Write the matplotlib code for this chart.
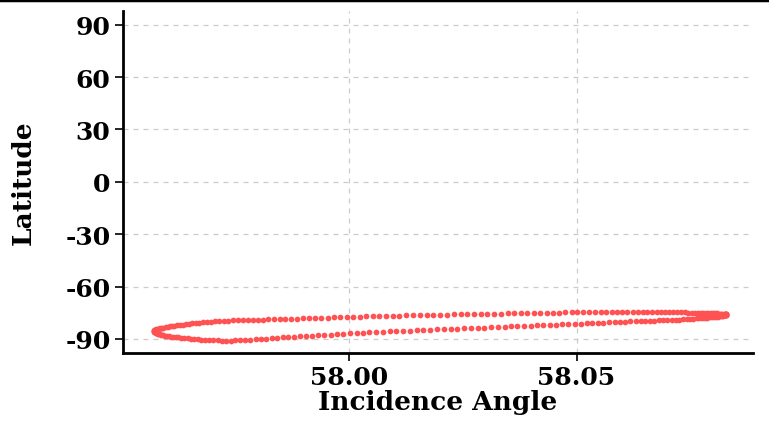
import matplotlib
matplotlib.use("Agg")
import matplotlib.pyplot as plt
from matplotlib.lines import Line2D

# Upper branch of the loop (left tip -> right tip)
upper_x = [57.9570, 57.9570, 57.9571, 57.9572, 57.9573, 57.9574, 57.9576, 57.9579, 57.9581, 57.9584,
           57.9588, 57.9591, 57.9596, 57.9600, 57.9605, 57.9610, 57.9615, 57.9621, 57.9627, 57.9633,
           57.9640, 57.9647, 57.9654, 57.9662, 57.9670, 57.9678, 57.9687, 57.9696, 57.9705, 57.9714,
           57.9724, 57.9734, 57.9744, 57.9754, 57.9765, 57.9776, 57.9788, 57.9799, 57.9811, 57.9822,
           57.9835, 57.9847, 57.9859, 57.9872, 57.9885, 57.9898, 57.9911, 57.9925, 57.9938, 57.9952,
           57.9966, 57.9980, 57.9994, 58.0008, 58.0023, 58.0037, 58.0051, 58.0066, 58.0081, 58.0096,
           58.0110, 58.0125, 58.0140, 58.0155, 58.0170, 58.0185, 58.0200, 58.0215, 58.0230, 58.0245,
           58.0260, 58.0275, 58.0290, 58.0304, 58.0319, 58.0334, 58.0349, 58.0363, 58.0377, 58.0392,
           58.0406, 58.0420, 58.0434, 58.0448, 58.0462, 58.0475, 58.0489, 58.0502, 58.0515, 58.0528,
           58.0541, 58.0553, 58.0565, 58.0578, 58.0589, 58.0601, 58.0612, 58.0624, 58.0635, 58.0646,
           58.0656, 58.0666, 58.0676, 58.0686, 58.0695, 58.0704, 58.0713, 58.0722, 58.0730, 58.0738,
           58.0746, 58.0753, 58.0760, 58.0767, 58.0773, 58.0779, 58.0785, 58.0790, 58.0795, 58.0800,
           58.0804, 58.0809, 58.0812, 58.0816, 58.0819, 58.0821, 58.0824, 58.0826, 58.0827, 58.0828,
           58.0829, 58.0830, 58.0830]
upper_lat = [-85.5, -85.3, -85.1, -85.0, -84.8, -84.6, -84.4, -84.3, -84.1, -83.9,
             -83.7, -83.5, -83.3, -83.1, -82.9, -82.7, -82.5, -82.3, -82.0, -81.8,
             -81.6, -81.4, -81.1, -80.9, -80.7, -80.5, -80.3, -80.15, -80.0, -79.8,
             -79.7, -79.6, -79.45, -79.35, -79.2, -79.1, -79.0, -78.95, -78.9, -78.8,
             -78.75, -78.7, -78.6, -78.5, -78.4, -78.3, -78.2, -78.1, -78.0, -77.85,
             -77.7, -77.6, -77.45, -77.35, -77.25, -77.15, -77.05, -76.95, -76.85, -76.75,
             -76.65, -76.55, -76.5, -76.4, -76.3, -76.2, -76.1, -76.05, -75.95, -75.9,
             -75.8, -75.75, -75.7, -75.6, -75.55, -75.5, -75.4, -75.35, -75.3, -75.2,
             -75.15, -75.1, -75.0, -74.95, -74.9, -74.85, -74.8, -74.75, -74.7, -74.7,
             -74.65, -74.65, -74.6, -74.6, -74.6, -74.6, -74.6, -74.6, -74.6, -74.6,
             -74.6, -74.6, -74.65, -74.65, -74.7, -74.7, -74.75, -74.75, -74.8, -74.85,
             -74.9, -74.95, -75.0, -75.05, -75.1, -75.15, -75.2, -75.25, -75.3, -75.35,
             -75.4, -75.45, -75.5, -75.55, -75.6, -75.65, -75.7, -75.75, -75.8, -75.85,
             -75.9, -75.95, -76.0]

# Lower branch of the loop (left tip -> right tip)
lower_x = [57.9570, 57.9571, 57.9572, 57.9573, 57.9574, 57.9575, 57.9578, 57.9580, 57.9583, 57.9586,
           57.9590, 57.9594, 57.9598, 57.9603, 57.9608, 57.9613, 57.9618, 57.9624, 57.9630, 57.9637,
           57.9644, 57.9651, 57.9658, 57.9666, 57.9674, 57.9683, 57.9692, 57.9701, 57.9710, 57.9719,
           57.9729, 57.9739, 57.9749, 57.9760, 57.9771, 57.9782, 57.9794, 57.9805, 57.9817, 57.9829,
           57.9841, 57.9853, 57.9866, 57.9879, 57.9892, 57.9905, 57.9918, 57.9932, 57.9945, 57.9959,
           57.9973, 57.9987, 58.0001, 58.0016, 58.0030, 58.0044, 58.0059, 58.0074, 58.0089, 58.0103,
           58.0118, 58.0133, 58.0148, 58.0163, 58.0178, 58.0193, 58.0208, 58.0223, 58.0238, 58.0253,
           58.0268, 58.0283, 58.0297, 58.0312, 58.0327, 58.0342, 58.0356, 58.0370, 58.0385, 58.0399,
           58.0413, 58.0427, 58.0441, 58.0455, 58.0469, 58.0482, 58.0496, 58.0509, 58.0522, 58.0535,
           58.0547, 58.0559, 58.0572, 58.0584, 58.0595, 58.0607, 58.0618, 58.0630, 58.0641, 58.0651,
           58.0661, 58.0671, 58.0681, 58.0691, 58.0700, 58.0709, 58.0718, 58.0726, 58.0734, 58.0742,
           58.0750, 58.0757, 58.0764, 58.0770, 58.0776, 58.0782, 58.0788, 58.0793, 58.0798, 58.0802,
           58.0807, 58.0811, 58.0814, 58.0818, 58.0820, 58.0823, 58.0825, 58.0827, 58.0828, 58.0829,
           58.0830, 58.0830]
lower_lat = [-85.6, -85.8, -86.1, -86.3, -86.5, -86.7, -87.0, -87.2, -87.4, -87.65,
             -87.9, -88.15, -88.35, -88.55, -88.7, -88.85, -89.0, -89.2, -89.4, -89.55,
             -89.7, -89.85, -90.1, -90.25, -90.4, -90.55, -90.7, -90.85, -90.9, -90.95,
             -91.0, -90.95, -90.9, -90.75, -90.6, -90.45, -90.3, -90.1, -89.9, -89.7,
             -89.45, -89.2, -88.95, -88.7, -88.5, -88.3, -88.1, -87.9, -87.7, -87.5,
             -87.25, -87.05, -86.8, -86.6, -86.45, -86.25, -86.1, -85.9, -85.75, -85.55,
             -85.4, -85.25, -85.1, -84.9, -84.75, -84.6, -84.45, -84.3, -84.1, -83.95,
             -83.8, -83.65, -83.5, -83.3, -83.15, -83.0, -82.85, -82.7, -82.55, -82.4,
             -82.25, -82.1, -81.95, -81.8, -81.65, -81.5, -81.35, -81.2, -81.05, -80.9,
             -80.8, -80.65, -80.5, -80.4, -80.25, -80.1, -80.0, -79.9, -79.8, -79.7,
             -79.6, -79.5, -79.4, -79.3, -79.2, -79.1, -79.0, -78.9, -78.8, -78.65,
             -78.55, -78.4, -78.3, -78.2, -78.05, -77.95, -77.8, -77.7, -77.55, -77.45,
             -77.3, -77.2, -77.1, -76.95, -76.85, -76.7, -76.6, -76.5, -76.4, -76.25,
             -76.15, -76.05]

y_ticks = [-90, -60, -30, 0, 30, 60, 90]
x_ticks = [58.00, 58.05]

FONT = "DejaVu Serif"
plt.rcParams["font.family"] = [FONT, "DejaVu Sans"]
plt.rcParams["font.weight"] = "bold"

fig = plt.figure(figsize=(7.69, 4.39), dpi=100)
ax = fig.add_axes([0.160, 0.194, 0.819, 0.779])

color = "#ff5252"
ax.scatter(upper_x, upper_lat, s=17, color=color, linewidths=0, zorder=3)
ax.scatter(lower_x, lower_lat, s=17, color=color, linewidths=0, zorder=3)

ax.set_xlim(57.9502, 58.0888)
ax.set_ylim(-98, 98)
ax.set_yticks(y_ticks)
ax.set_yticklabels([str(v) for v in y_ticks])
ax.set_xticks(x_ticks)
ax.set_xticklabels([f"{v:.2f}" for v in x_ticks])

ax.grid(True, linestyle=(0, (4, 4)), color="#cccccc", linewidth=0.9)
ax.set_axisbelow(True)
for side in ["top", "right"]:
    ax.spines[side].set_visible(False)
for side in ["left", "bottom"]:
    ax.spines[side].set_linewidth(2)
    ax.spines[side].set_color("black")

ax.tick_params(axis="both", direction="out", length=6, width=1.2, labelsize=18, pad=3)
for lab in ax.get_xticklabels() + ax.get_yticklabels():
    lab.set_fontweight("heavy")

ax.set_xlabel("Incidence Angle", fontsize=19, fontweight="heavy", labelpad=0)
ax.set_ylabel("Latitude", fontsize=19, fontweight="heavy", labelpad=21)

fig.add_artist(Line2D([0, 1], [0.998, 0.998], transform=fig.transFigure, color="black", linewidth=2.5))

fig.savefig("out.png", dpi=100)
